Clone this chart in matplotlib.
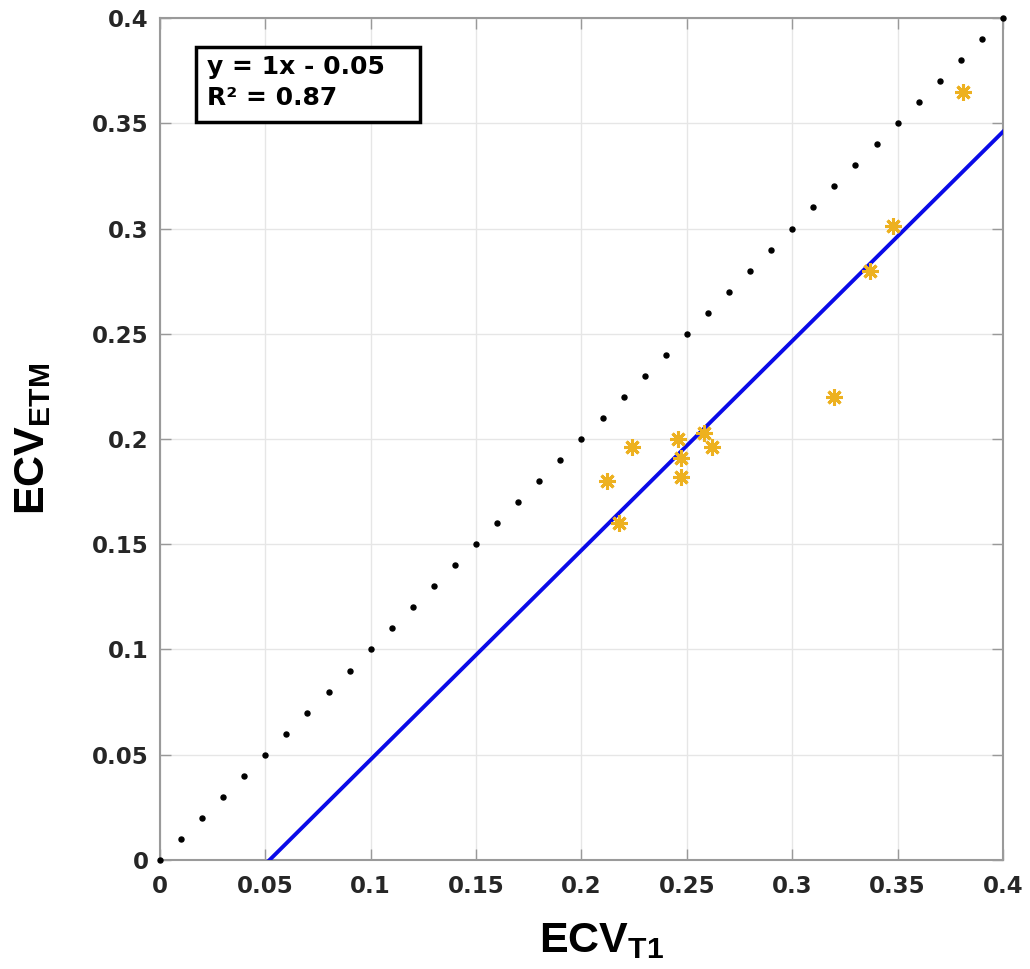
import matplotlib
matplotlib.use("Agg")
import matplotlib.pyplot as plt
from matplotlib.patches import Rectangle

# identity reference (dotted), sampled every 0.01
identity_x = [0.00, 0.01, 0.02, 0.03, 0.04, 0.05, 0.06, 0.07, 0.08, 0.09,
              0.10, 0.11, 0.12, 0.13, 0.14, 0.15, 0.16, 0.17, 0.18, 0.19,
              0.20, 0.21, 0.22, 0.23, 0.24, 0.25, 0.26, 0.27, 0.28, 0.29,
              0.30, 0.31, 0.32, 0.33, 0.34, 0.35, 0.36, 0.37, 0.38, 0.39, 0.40]
identity_y = list(identity_x)

# measured ECV values
ecv_t1 = [0.212, 0.218, 0.224, 0.246, 0.247, 0.247, 0.258, 0.262,
          0.320, 0.337, 0.348, 0.381]
ecv_etm = [0.180, 0.160, 0.196, 0.200, 0.191, 0.182, 0.203, 0.196,
           0.220, 0.280, 0.301, 0.365]

# fitted regression line endpoints
fit_x = [0.052, 0.400]
fit_y = [0.000, 0.346]

ticks = [0, 0.05, 0.1, 0.15, 0.2, 0.25, 0.3, 0.35, 0.4]
tick_labels = ["0", "0.05", "0.1", "0.15", "0.2", "0.25", "0.3", "0.35", "0.4"]

plt.rcParams["mathtext.fontset"] = "custom"
plt.rcParams["mathtext.rm"] = "Liberation Sans:bold"
plt.rcParams["mathtext.bf"] = "Liberation Sans:bold"

fig = plt.figure(figsize=(10.3, 9.69), dpi=100)
ax = fig.add_axes([0.1553, 0.1125, 0.8185, 0.8689])

ax.plot(identity_x, identity_y, linestyle="none", marker="o", markersize=3.6,
        color="black", clip_on=False, zorder=3)
ax.plot(fit_x, fit_y, color="#0a0ae8", linewidth=2.8, zorder=3)
ax.plot(ecv_t1, ecv_etm, linestyle="none", marker=(8, 2, 0), markersize=12,
        markeredgewidth=2.2, color="#EDB120", zorder=4)

ax.set_xlim(0, 0.4)
ax.set_ylim(0, 0.4)
ax.set_xticks(ticks)
ax.set_yticks(ticks)
ax.set_xticklabels(tick_labels, fontsize=16.5, fontweight="bold", color="#262626")
ax.set_yticklabels(tick_labels, fontsize=16.5, fontweight="bold", color="#262626")
ax.tick_params(direction="in", length=8, width=1, color="#999999",
               top=True, right=True)
ax.tick_params(axis="x", pad=11)
ax.tick_params(axis="y", pad=8)
ax.grid(True, color="#e6e6e6", linewidth=1)
ax.set_axisbelow(True)
for s in ax.spines.values():
    s.set_color("#9a9a9a")
    s.set_linewidth(1.5)

ax.set_xlabel(r"ECV$_{\mathrm{T1}}$", fontsize=31, family="Liberation Sans",
              fontweight="bold")
ax.xaxis.set_label_coords(0.524, -0.073, transform=ax.transAxes)
ax.xaxis.label.set_va("top")
ax.set_ylabel(r"ECV$_{\mathrm{ETM}}$", fontsize=31, family="Liberation Sans",
              fontweight="bold", labelpad=28)

# equation box
ax.add_patch(Rectangle((0.0427, 0.8765), 0.2657, 0.0891, transform=ax.transAxes,
                       facecolor="white", edgecolor="black", linewidth=2.5,
                       zorder=5))
ax.text(0.0558, 0.9235, "y = 1x - 0.05\nR² = 0.87", transform=ax.transAxes,
        fontsize=18, fontweight="bold", va="center", ha="left",
        linespacing=1.35, zorder=6)

fig.savefig("out.png", dpi=100)
